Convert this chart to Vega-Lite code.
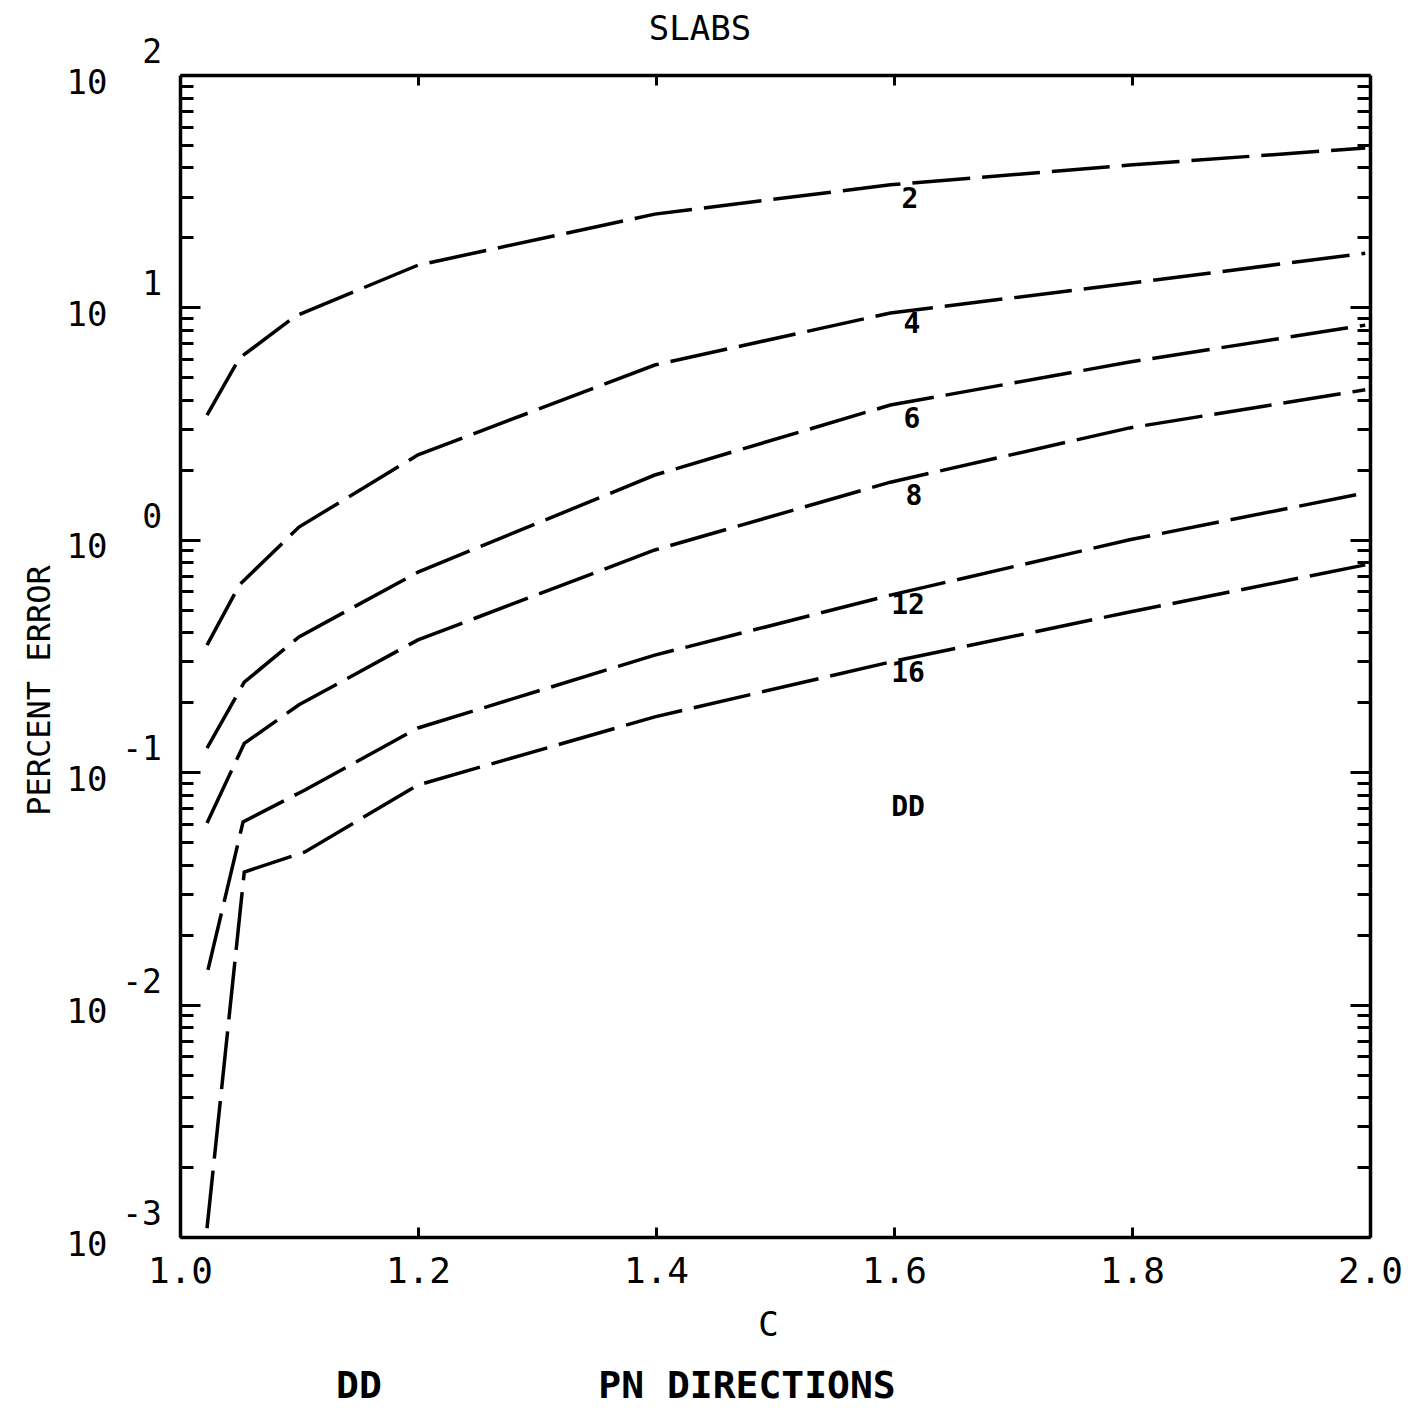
{
  "$schema": "https://vega.github.io/schema/vega-lite/v6.json",
  "width": 1190,
  "height": 1162,
  "autosize": {"type": "none"},
  "padding": {"left": 180, "top": 75, "right": 38, "bottom": 171},
  "background": "white",
  "config": {
    "view": {"stroke": null},
    "font": "DejaVu Sans Mono",
    "axis": {
      "domainColor": "black",
      "domainWidth": 3.5,
      "tickColor": "black",
      "tickWidth": 3,
      "labelColor": "black",
      "titleColor": "black",
      "grid": false,
      "labelFont": "DejaVu Sans Mono",
      "titleFont": "DejaVu Sans Mono",
      "titleFontWeight": "normal",
      "labelFlush": false,
      "labelOverlap": false,
      "labelBound": false
    }
  },
  "title": {
    "text": "SLABS",
    "font": "DejaVu Sans Mono",
    "fontSize": 34,
    "fontWeight": "normal",
    "color": "black",
    "anchor": "middle",
    "frame": "group",
    "dx": -75,
    "offset": -10
  },
  "datasets": {
    "curves": [
      {"n": "2", "c": 1.0227, "p": 3.44},
      {"n": "2", "c": 1.050, "p": 6.05},
      {"n": "2", "c": 1.097, "p": 9.18},
      {"n": "2", "c": 1.200, "p": 15.2},
      {"n": "2", "c": 1.399, "p": 25.2},
      {"n": "2", "c": 1.597, "p": 33.7},
      {"n": "2", "c": 1.798, "p": 41.0},
      {"n": "2", "c": 1.996, "p": 48.5},
      {"n": "4", "c": 1.0227, "p": 0.352},
      {"n": "4", "c": 1.050, "p": 0.640},
      {"n": "4", "c": 1.100, "p": 1.135},
      {"n": "4", "c": 1.200, "p": 2.32},
      {"n": "4", "c": 1.399, "p": 5.65},
      {"n": "4", "c": 1.597, "p": 9.46},
      {"n": "4", "c": 1.798, "p": 12.7},
      {"n": "4", "c": 1.996, "p": 17.1},
      {"n": "6", "c": 1.0227, "p": 0.127},
      {"n": "6", "c": 1.054, "p": 0.244},
      {"n": "6", "c": 1.100, "p": 0.382},
      {"n": "6", "c": 1.200, "p": 0.726},
      {"n": "6", "c": 1.399, "p": 1.90},
      {"n": "6", "c": 1.597, "p": 3.80},
      {"n": "6", "c": 1.798, "p": 5.82},
      {"n": "6", "c": 1.996, "p": 8.39},
      {"n": "8", "c": 1.0227, "p": 0.0604},
      {"n": "8", "c": 1.054, "p": 0.133},
      {"n": "8", "c": 1.100, "p": 0.195},
      {"n": "8", "c": 1.200, "p": 0.371},
      {"n": "8", "c": 1.399, "p": 0.904},
      {"n": "8", "c": 1.597, "p": 1.77},
      {"n": "8", "c": 1.798, "p": 3.03},
      {"n": "8", "c": 1.996, "p": 4.42},
      {"n": "12", "c": 1.0235, "p": 0.0141},
      {"n": "12", "c": 1.053, "p": 0.0611},
      {"n": "12", "c": 1.105, "p": 0.0838},
      {"n": "12", "c": 1.200, "p": 0.155},
      {"n": "12", "c": 1.399, "p": 0.319},
      {"n": "12", "c": 1.597, "p": 0.578},
      {"n": "12", "c": 1.798, "p": 1.0},
      {"n": "12", "c": 1.996, "p": 1.59},
      {"n": "16", "c": 1.0227, "p": 0.00109},
      {"n": "16", "c": 1.054, "p": 0.0372},
      {"n": "16", "c": 1.105, "p": 0.0454},
      {"n": "16", "c": 1.200, "p": 0.0881},
      {"n": "16", "c": 1.399, "p": 0.173},
      {"n": "16", "c": 1.597, "p": 0.298},
      {"n": "16", "c": 1.798, "p": 0.489},
      {"n": "16", "c": 1.996, "p": 0.780}
    ],
    "labels": [
      {"t": "2", "c": 1.6134, "p": 28.98},
      {"t": "4", "c": 1.6151, "p": 8.40},
      {"t": "6", "c": 1.6151, "p": 3.28},
      {"t": "8", "c": 1.6168, "p": 1.528},
      {"t": "12", "c": 1.6118, "p": 0.519},
      {"t": "16", "c": 1.6118, "p": 0.2646},
      {"t": "DD", "c": 1.6118, "p": 0.0701}
    ],
    "exponents": [
      {"e": "2", "v": 100},
      {"e": "1", "v": 10},
      {"e": "0", "v": 1},
      {"e": "-1", "v": 0.1},
      {"e": "-2", "v": 0.01},
      {"e": "-3", "v": 0.001}
    ],
    "footer": [
      {"t": "DD", "c": 1.1504},
      {"t": "PN DIRECTIONS", "c": 1.4765}
    ]
  },
  "layer": [
    {
      "data": {"name": "curves"},
      "mark": {"type": "line", "color": "black", "strokeWidth": 3.5, "strokeDash": [58, 12], "strokeCap": "butt", "clip": true},
      "encoding": {
        "x": {
          "field": "c", "type": "quantitative",
          "scale": {"domain": [1, 2], "nice": false, "zero": false},
          "axis": {
            "orient": "bottom",
            "values": [1, 1.2, 1.4, 1.6, 1.8, 2],
            "tickSize": -10,
            "labelPadding": 44,
            "labelBaseline": "middle",
            "labelFontSize": 36,
            "labelExpr": "format(datum.value, '.1f')",
            "title": "C",
            "titleFontSize": 34,
            "titleX": 588,
            "titleY": 88,
            "titleAlign": "center",
            "titleBaseline": "middle"
          }
        },
        "y": {
          "field": "p", "type": "quantitative",
          "scale": {"type": "log", "domain": [0.001, 100], "nice": false},
          "axis": {
            "orient": "left",
            "values": [0.001, 0.002, 0.003, 0.004, 0.005, 0.006, 0.007, 0.008, 0.009, 0.01, 0.02, 0.03, 0.04, 0.05, 0.06, 0.07, 0.08, 0.09, 0.1, 0.2, 0.3, 0.4, 0.5, 0.6, 0.7, 0.8, 0.9, 1, 2, 3, 4, 5, 6, 7, 8, 9, 10, 20, 30, 40, 50, 60, 70, 80, 90, 100],
            "tickSize": {"condition": {"test": "abs(log(datum.value)/LN10 - round(log(datum.value)/LN10)) < 1e-6", "value": -20}, "value": -13},
            "labelExpr": "abs(log(datum.value)/LN10 - round(log(datum.value)/LN10)) < 1e-6 ? '10' : ''",
            "labelPadding": 93,
            "labelFontSize": 34,
            "labelBaseline": "middle",
            "labelOffset": 8,
            "title": "PERCENT ERROR",
            "titleFontSize": 32,
            "titleAngle": 270,
            "titleX": -141,
            "titleY": 615,
            "titleAlign": "center",
            "titleBaseline": "middle"
          }
        },
        "detail": {"field": "n", "type": "nominal"}
      }
    },
    {
      "data": {"name": "labels"},
      "mark": {"type": "text", "font": "DejaVu Sans Mono", "fontWeight": "bold", "fontSize": 28, "color": "black", "align": "center", "baseline": "middle"},
      "encoding": {
        "x": {
          "field": "c", "type": "quantitative",
          "scale": {"domain": [1, 2], "nice": false, "zero": false},
          "axis": {"orient": "top", "values": [1.2, 1.4, 1.6, 1.8], "tickSize": -10, "labels": false, "title": null}
        },
        "y": {
          "field": "p", "type": "quantitative",
          "scale": {"type": "log", "domain": [0.001, 100], "nice": false},
          "axis": {
            "orient": "right",
            "values": [0.001, 0.002, 0.003, 0.004, 0.005, 0.006, 0.007, 0.008, 0.009, 0.01, 0.02, 0.03, 0.04, 0.05, 0.06, 0.07, 0.08, 0.09, 0.1, 0.2, 0.3, 0.4, 0.5, 0.6, 0.7, 0.8, 0.9, 1, 2, 3, 4, 5, 6, 7, 8, 9, 10, 20, 30, 40, 50, 60, 70, 80, 90, 100],
            "tickSize": {"condition": {"test": "abs(log(datum.value)/LN10 - round(log(datum.value)/LN10)) < 1e-6", "value": -20}, "value": -13},
            "labels": false,
            "title": null
          }
        },
        "text": {"field": "t", "type": "nominal"}
      }
    },
    {
      "data": {"name": "exponents"},
      "mark": {"type": "text", "font": "DejaVu Sans Mono", "fontSize": 33, "color": "black", "align": "right", "baseline": "middle", "dx": -18, "dy": -22},
      "encoding": {
        "x": {"datum": 1, "type": "quantitative", "scale": {"domain": [1, 2], "nice": false, "zero": false}, "axis": null},
        "y": {"field": "v", "type": "quantitative", "scale": {"type": "log", "domain": [0.001, 100], "nice": false}, "axis": null},
        "text": {"field": "e", "type": "nominal"}
      }
    },
    {
      "data": {"name": "footer"},
      "mark": {"type": "text", "font": "DejaVu Sans Mono", "fontSize": 38, "fontWeight": "bold", "color": "black", "align": "center", "baseline": "middle", "dy": 150},
      "encoding": {
        "x": {"field": "c", "type": "quantitative", "scale": {"domain": [1, 2], "nice": false, "zero": false}, "axis": null},
        "y": {"datum": 0.001, "type": "quantitative", "scale": {"type": "log", "domain": [0.001, 100], "nice": false}, "axis": null},
        "text": {"field": "t", "type": "nominal"}
      }
    }
  ],
  "resolve": {"axis": {"x": "independent", "y": "independent"}}
}
